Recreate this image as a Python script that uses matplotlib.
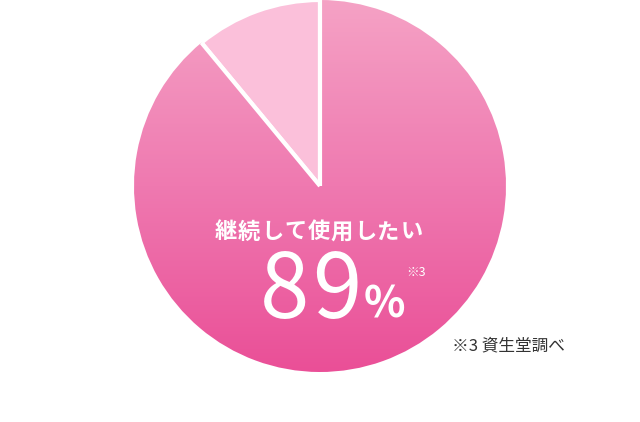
import numpy as np
import matplotlib
matplotlib.use("Agg")
import matplotlib.pyplot as plt
from matplotlib.patches import Wedge
from matplotlib.colors import LinearSegmentedColormap

plt.rcParams['font.family'] = ['Noto Sans CJK JP', 'DejaVu Sans']

labels = ["継続して使用したい", "その他"]
shares = [89, 11]
note = "※3 資生堂調べ"

W, H = 640, 422
fig = plt.figure(figsize=(W / 100, H / 100), dpi=100)
ax = fig.add_axes([0, 0, 1, 1])
ax.set_xlim(0, W)
ax.set_ylim(H, 0)
ax.axis("off")

cx, cy, r = 320, 186, 186
# angles in data coords (y down): start at top, main slice clockwise on screen
total = sum(shares)
top = -90
a_main = 360 * shares[0] / total
main = Wedge((cx, cy), r, top, top + a_main, facecolor="none", edgecolor="none")
rest = Wedge((cx, cy), r, top + a_main, top + 360, facecolor="#fbc0da",
             edgecolor="white", linewidth=3)
ax.add_patch(rest)
ax.add_patch(main)

cmap = LinearSegmentedColormap.from_list("pk", ["#f5a2c5", "#ef79b0", "#ea4f97"])
grad = np.linspace(0, 1, 256).reshape(-1, 1)
im = ax.imshow(grad, cmap=cmap, extent=[cx - r, cx + r, cy + r, cy - r],
               aspect="auto", zorder=1)
im.set_clip_path(main)

# white separators
for ang in (top, top + a_main):
    t = np.deg2rad(ang)
    ax.plot([cx, cx + r * np.cos(t)], [cy, cy + r * np.sin(t)],
            color="white", lw=3, zorder=3, solid_capstyle="butt")

# title with a little letter spacing
title = labels[0]
step = 23.2
x0 = 226
for i, ch in enumerate(title):
    ax.text(x0 + i * step, 232, ch, color="white", fontsize=16, fontweight="bold",
            ha="center", va="center", zorder=4)

# big number, digits spaced apart
for i, ch in enumerate(str(shares[0])):
    ax.text(285 + i * 52, 293, ch, color="white", fontsize=64, fontweight="normal",
            ha="center", va="center", zorder=4)
ax.text(384, 305, "%", color="white", fontsize=31, fontweight="bold",
        ha="center", va="center", zorder=4)
ax.text(406, 272, "※3", color="white", fontsize=9, ha="left", va="center", zorder=4)
ax.text(452, 346, note, color="#333333", fontsize=12, ha="left", va="center", zorder=4)

fig.savefig("out.png", dpi=100, facecolor="white")
